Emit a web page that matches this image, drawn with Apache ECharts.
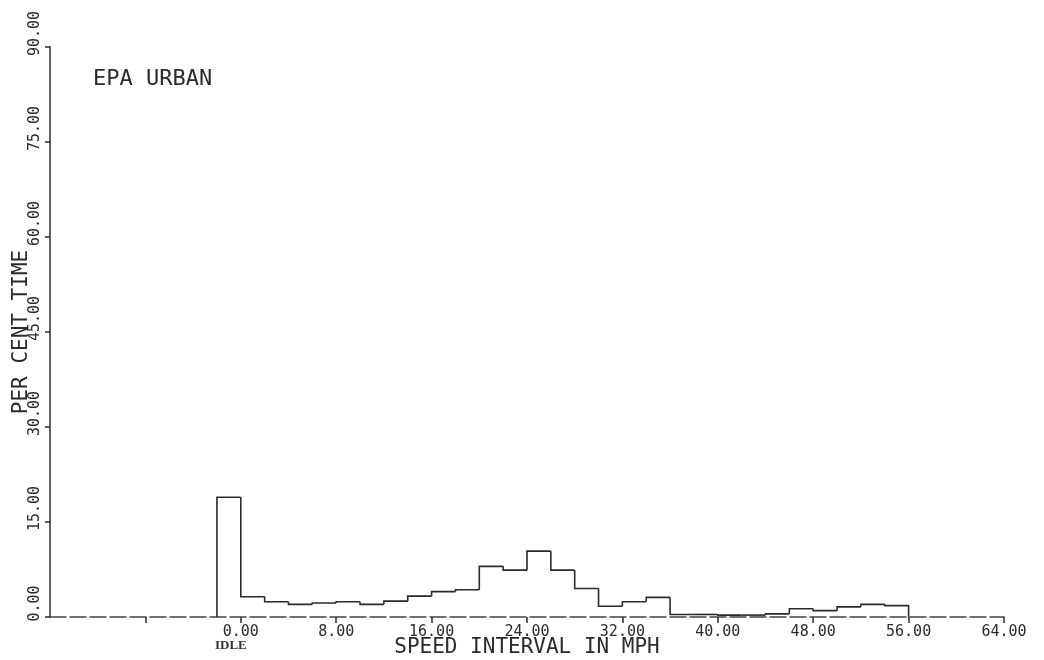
<!DOCTYPE html>
<html>
<head>
<meta charset="utf-8">
<title>EPA URBAN - speed interval distribution</title>
<script src="https://cdn.jsdelivr.net/npm/echarts@6/dist/echarts.min.js"></script>
<style>
  html, body { margin: 0; padding: 0; background: #ffffff; }
  #chart { width: 1044px; height: 660px; }
</style>
</head>
<body>
<div id="chart"></div>
<script>
// Speed bins are 2 mph wide; the first bin (-2..0) is the idle bin.
const binLeftEdges = [-2, 0, 2, 4, 6, 8, 10, 12, 14, 16, 18, 20, 22, 24, 26, 28,
                      30, 32, 34, 36, 38, 40, 42, 44, 46, 48, 50, 52, 54];
const binWidth = 2;
// Per cent of time spent in each speed interval
const percentTime = [18.9, 3.2, 2.4, 2.0, 2.2, 2.4, 2.0, 2.5, 3.3, 4.0, 4.3,
                     8.0, 7.4, 10.4, 7.4, 4.5, 1.7, 2.4, 3.1, 0.4, 0.4, 0.3,
                     0.3, 0.5, 1.3, 1.0, 1.6, 2.0, 1.8];
const xTicks = { min: -16, max: 64, step: 8 };
const yTicks = { min: 0, max: 90, step: 15 };
const xTickMarks = [-8, 0, 8, 16, 24, 32, 40, 48, 56, 64];
const chartTitle = 'EPA URBAN';
const xAxisTitle = 'SPEED INTERVAL IN MPH';
const yAxisTitle = 'PER CENT TIME';
const idleLabel = 'IDLE';

// One item per bin: [left edge, right edge, value, previous bin value, is last bin]
const bins = binLeftEdges.map((x, i) => [
  x, x + binWidth, percentTime[i],
  i === 0 ? 0 : percentTime[i - 1],
  i === binLeftEdges.length - 1 ? 1 : 0
]);

const ink = '#2b2b2b';
const mono = '"DejaVu Sans Mono", "Liberation Mono", monospace';

// Each bin draws the riser from the previous level and its own flat top;
// the last bin also drops back to the baseline.
function renderBin(params, api) {
  const x0 = api.value(0), x1 = api.value(1), v = api.value(2), prev = api.value(3);
  const pts = [api.coord([x0, prev]), api.coord([x0, v]), api.coord([x1, v])];
  if (api.value(4) === 1) pts.push(api.coord([x1, 0]));
  return {
    type: 'polyline',
    shape: { points: pts },
    style: { stroke: ink, lineWidth: 1.6, fill: null, lineJoin: 'miter' },
    silent: true
  };
}

const chart = echarts.init(document.getElementById('chart'), null, { renderer: 'canvas' });
chart.setOption({
  backgroundColor: '#ffffff',
  animation: false,
  grid: { left: 50, top: 47, width: 954, height: 570, containLabel: false, outerBoundsMode: 'none' },
  xAxis: {
    type: 'value',
    min: xTicks.min,
    max: xTicks.max,
    interval: xTicks.step,
    name: xAxisTitle,
    nameLocation: 'middle',
    nameGap: 20,
    nameMoveOverlap: false,
    nameTextStyle: { color: ink, fontFamily: mono, fontSize: 21 },
    axisLine: { onZero: false, lineStyle: { color: '#444', width: 1.5, type: [16, 4] } },
    axisTick: { show: true, length: 6, lineStyle: { color: ink, width: 1.5 },
                customValues: xTickMarks },
    axisLabel: {
      color: ink, fontFamily: mono, fontSize: 15, margin: 8,
      formatter: v => (v < 0 ? '' : v.toFixed(2))
    },
    splitLine: { show: false }
  },
  yAxis: {
    type: 'value',
    min: yTicks.min,
    max: yTicks.max,
    interval: yTicks.step,
    name: yAxisTitle,
    nameLocation: 'middle',
    nameGap: 18,
    nameMoveOverlap: false,
    nameTextStyle: { color: ink, fontFamily: mono, fontSize: 21 },
    axisLine: { show: true, onZero: false, lineStyle: { color: ink, width: 1.5 } },
    axisTick: { show: true, length: 5, lineStyle: { color: ink, width: 1.5 } },
    axisLabel: {
      color: ink, fontFamily: mono, fontSize: 15, margin: 7, rotate: 90,
      padding: [0, 0, 0, 27],
      formatter: v => v.toFixed(2)
    },
    splitLine: { show: false }
  },
  graphic: [
    {
      type: 'text', left: 93, top: 68, silent: true,
      style: { text: chartTitle, fill: ink, font: '22px ' + mono }
    },
    {
      type: 'text', left: 215, top: 639, silent: true,
      style: { text: idleLabel, fill: '#333', font: 'bold 13px "Liberation Serif", serif' }
    }
  ],
  series: [{
    type: 'custom',
    renderItem: renderBin,
    data: bins,
    encode: { x: [0, 1], y: 2 },
    clip: false,
    silent: true
  }]
});
</script>
</body>
</html>
